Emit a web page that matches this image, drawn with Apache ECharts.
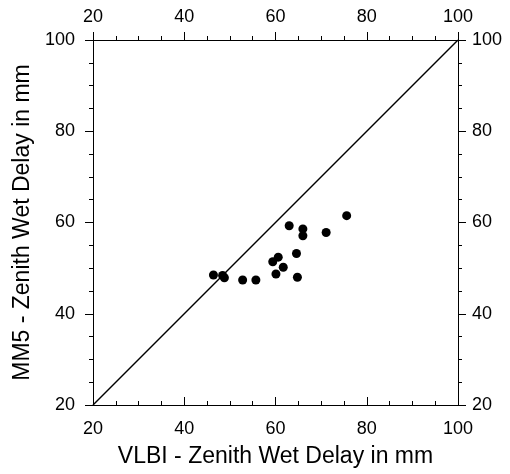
<!DOCTYPE html>
<html>
<head>
<meta charset="utf-8">
<script src="https://cdn.jsdelivr.net/npm/echarts@6/dist/echarts.min.js"></script>
<style>
  html, body { margin: 0; padding: 0; background: #fff; }
  #chart { width: 510px; height: 474px; }
</style>
</head>
<body>
<div id="chart"></div>
<script>
// VLBI vs MM5 zenith wet delay (mm)
const vlbiVals = [75.6, 63.0, 66.0, 66.0, 71.1, 64.6, 60.6, 59.4, 61.7, 60.1, 64.8, 46.4, 48.4, 48.8, 52.8, 55.7];
const mm5Vals  = [61.5, 59.3, 58.6, 57.1, 57.8, 53.2, 52.4, 51.4, 50.2, 48.7, 48.0, 48.5, 48.4, 47.9, 47.4, 47.4];
const lineX = [20, 100];
const lineY = [20, 100];
const xTitle = 'VLBI - Zenith Wet Delay in mm';
const yTitle = 'MM5 - Zenith Wet Delay in mm';

var dom = document.getElementById('chart');
var myChart = echarts.init(dom, null, { renderer: 'canvas' });

var font = 'Liberation Sans, Arial, sans-serif';
var axisBase = {
  type: 'value',
  min: 20,
  max: 100,
  interval: 20,
  splitLine: { show: false },
  axisLine: { show: true, lineStyle: { color: '#000', width: 1 } },
  axisTick: { show: true, length: 8, lineStyle: { color: '#000' } },
  minorTick: { show: true, splitNumber: 4, length: 4, lineStyle: { color: '#000' } },
  axisLabel: { color: '#000', fontSize: 18, fontFamily: font }
};

function ax(extra) {
  return Object.assign({}, JSON.parse(JSON.stringify(axisBase)), extra);
}

var option = {
  backgroundColor: '#fff',
  animation: false,
  grid: { left: 93, right: 52, top: 40, bottom: 69 },
  xAxis: [
    ax({
      position: 'bottom',
      name: xTitle,
      nameLocation: 'middle',
      nameGap: 40,
      nameTextStyle: { color: '#000', fontSize: 23, fontFamily: font },
      axisTick: { show: true, inside: true, length: 8, lineStyle: { color: '#000' } },
      minorTick: { show: true, splitNumber: 4, length: 4, lineStyle: { color: '#000' } },
      axisLabel: { color: '#000', fontSize: 18, fontFamily: font, margin: 15 }
    }),
    ax({
      position: 'top',
      axisLabel: { color: '#000', fontSize: 18, fontFamily: font, margin: 14 }
    })
  ],
  yAxis: [
    ax({
      position: 'left',
      name: yTitle,
      nameLocation: 'middle',
      nameGap: 58,
      nameTextStyle: { color: '#000', fontSize: 23, fontFamily: font },
      axisLabel: { color: '#000', fontSize: 18, fontFamily: font, margin: 18 }
    }),
    ax({
      position: 'right',
      axisLabel: { color: '#000', fontSize: 18, fontFamily: font, margin: 14 }
    })
  ],
  series: [
    {
      name: '1:1',
      type: 'line',
      data: lineX.map(function (x, i) { return [x, lineY[i]]; }),
      showSymbol: false,
      lineStyle: { color: '#000', width: 1.5 },
      silent: true
    },
    {
      name: 'points',
      type: 'scatter',
      data: vlbiVals.map(function (x, i) { return [x, mm5Vals[i]]; }),
      symbolSize: 9,
      itemStyle: { color: '#000', opacity: 1 }
    }
  ]
};

if (option && typeof option === 'object') {
  myChart.setOption(option);
}

window.addEventListener('resize', myChart.resize);
</script>
</body>
</html>
